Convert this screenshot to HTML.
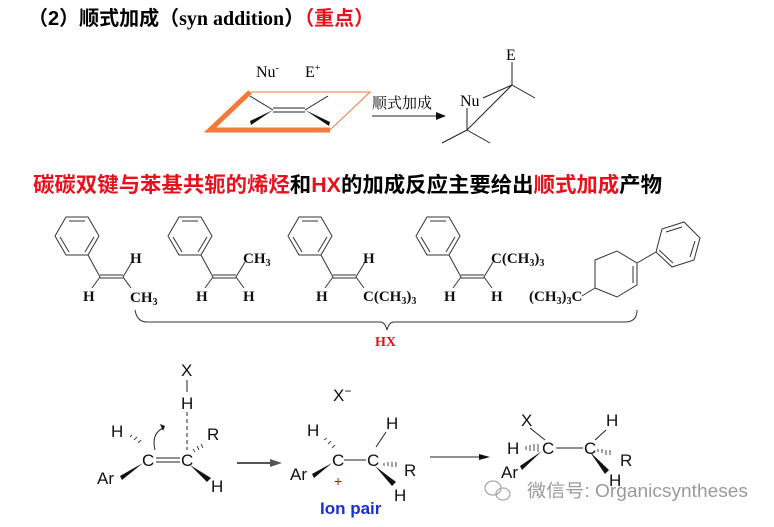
<!DOCTYPE html>
<html><head><meta charset="utf-8"><style>
html,body{margin:0;padding:0;background:#fff}
svg{display:block}
</style></head><body>
<svg width="774" height="527" viewBox="0 0 774 527" xmlns="http://www.w3.org/2000/svg">
<text x="28" y="25" font-weight="bold" font-size="20" font-family="Liberation Sans,Noto Sans CJK SC,sans-serif">（2）顺式加成（<tspan font-family="Liberation Serif">syn addition</tspan>）<tspan fill="#e8101a">（重点）</tspan></text>

<!-- top scheme -->
<g stroke="#222" stroke-width="1" fill="none">
<polyline points="250,92 210,130 330,130" stroke="#f07a3a" stroke-width="5"/>
<polyline points="250,92 370,92 330,130" stroke="#f07a3a" stroke-width="1"/>
<line x1="273" y1="108" x2="305" y2="108"/><line x1="273" y1="112" x2="305" y2="112"/>
<line x1="273" y1="110" x2="250" y2="96"/><line x1="305" y1="110" x2="328" y2="96"/>
<line x1="372" y1="116" x2="440" y2="116"/>
<line x1="512" y1="62" x2="512" y2="85"/><line x1="512" y1="85" x2="535" y2="98"/>
<line x1="512" y1="85" x2="483" y2="98"/><line x1="512" y1="85" x2="467" y2="130"/>
<line x1="467" y1="108" x2="467" y2="130"/><line x1="467" y1="130" x2="442" y2="143"/><line x1="467" y1="130" x2="490" y2="143"/>
</g>
<polygon points="273,110 250,121 251,125" fill="#111"/>
<polygon points="305,110 330,122 329,126" fill="#111"/>
<polygon points="446,116 436,112 436,120" fill="#111"/>
<text x="256" y="77" font-size="16" font-family="Liberation Serif">Nu<tspan font-size="10" dy="-6">-</tspan></text>
<text x="305" y="77" font-size="16" font-family="Liberation Serif">E<tspan font-size="10" dy="-6">+</tspan></text>
<text x="372" y="108" font-size="15" font-family="Noto Serif CJK SC,serif">顺式加成</text>
<text x="506" y="60" font-size="16" font-family="Liberation Serif">E</text>
<text x="460" y="106" font-size="16" font-family="Liberation Serif">Nu</text>

<text x="33" y="192" font-weight="bold" font-size="21" font-family="Liberation Sans,Noto Sans CJK SC,sans-serif" textLength="629" lengthAdjust="spacingAndGlyphs"><tspan fill="#e8101a">碳碳双键与苯基共轭的烯烃</tspan>和<tspan fill="#e8101a">HX</tspan>的加成反应主要给出<tspan fill="#e8101a">顺式加成</tspan>产物</text>

<defs>
<g id="sty" stroke="#333" stroke-width="1" fill="none">
<polygon points="-22,0 -11,-19 11,-19 22,0 11,19 -11,19"/>
<line x1="-8" y1="-15" x2="8" y2="-15"/><line x1="-17" y1="1" x2="-8" y2="16"/><line x1="17" y1="1" x2="8" y2="16"/>
<line x1="11" y1="19" x2="23" y2="41"/>
<line x1="23" y1="39" x2="46" y2="39"/><line x1="23" y1="42" x2="46" y2="42"/>
<line x1="23" y1="41" x2="15" y2="52"/><line x1="46" y1="41" x2="55" y2="26"/><line x1="46" y1="41" x2="54" y2="52"/>
</g>
</defs>
<g font-family="Liberation Serif" font-weight="bold" font-size="15" fill="#111">
<use href="#sty" x="77" y="236"/>
<text x="83" y="301">H</text><text x="130" y="263">H</text><text x="130" y="302">CH<tspan font-size="10" dy="3">3</tspan></text>
<use href="#sty" x="190" y="236"/>
<text x="196" y="301">H</text><text x="243" y="263">CH<tspan font-size="10" dy="3">3</tspan></text><text x="243" y="301">H</text>
<use href="#sty" x="310" y="236"/>
<text x="316" y="301">H</text><text x="363" y="263">H</text><text x="363" y="301">C(CH<tspan font-size="10" dy="3">3</tspan><tspan dy="-3">)</tspan><tspan font-size="10" dy="3">3</tspan></text>
<use href="#sty" x="438" y="236"/>
<text x="444" y="301">H</text><text x="491" y="263">C(CH<tspan font-size="10" dy="3">3</tspan><tspan dy="-3">)</tspan><tspan font-size="10" dy="3">3</tspan></text><text x="491" y="301">H</text>
<text x="529" y="301">(CH<tspan font-size="10" dy="3">3</tspan><tspan dy="-3">)</tspan><tspan font-size="10" dy="3">3</tspan><tspan dy="-3">C</tspan></text>
</g>
<g stroke="#333" stroke-width="1" fill="none">
<polygon points="595,260 617,251 637,263 637,285 617,297 595,288"/>
<line x1="633" y1="266" x2="633" y2="283"/>
<line x1="582" y1="296" x2="595" y2="288"/>
<line x1="637" y1="263" x2="656" y2="252"/>
<polygon points="656,252 662,229 684,222 700,238 694,260 672,267"/>
<line x1="666" y1="232" x2="682" y2="227"/><line x1="695" y1="241" x2="690" y2="257"/><line x1="673" y1="263" x2="659" y2="250"/>
<path d="M135,310 q2,12 12,12 L380,322 q5,0 7,8 q2,-8 7,-8 L625,322 q12,0 12,-12"/>
</g>
<text x="375" y="346" font-family="Liberation Serif" font-weight="bold" font-size="14" fill="#e8101a">HX</text>

<!-- mechanism -->
<g font-size="17" fill="#111" font-family="Liberation Sans,sans-serif">
<text x="181" y="376">X</text><text x="181" y="409">H</text>
<text x="111" y="437">H</text><text x="142" y="466">C</text><text x="181" y="466">C</text>
<text x="207" y="440">R</text><text x="97" y="484">Ar</text><text x="211" y="492">H</text>
<text x="333" y="401">X<tspan font-size="12" dy="-6">−</tspan></text>
<text x="307" y="436">H</text><text x="332" y="466">C</text><text x="367" y="466">C</text>
<text x="386" y="429">H</text><text x="404" y="476">R</text><text x="394" y="501">H</text><text x="290" y="480">Ar</text>
<text x="334" y="486" font-size="14" fill="#c00">+</text>
<text x="320" y="514" font-weight="bold" fill="#1a2fd0">Ion pair</text>
<text x="521" y="426">X</text><text x="507" y="454">H</text><text x="542" y="454">C</text><text x="584" y="454">C</text>
<text x="606" y="426">H</text><text x="620" y="466">R</text><text x="501" y="478">Ar</text><text x="609" y="486">H</text>
</g>
<g stroke="#222" stroke-width="1" fill="none">
<line x1="156" y1="458" x2="180" y2="458"/><line x1="156" y1="462" x2="180" y2="462"/>
<line x1="187" y1="380" x2="187" y2="392"/>
<line x1="187" y1="412" x2="187" y2="450" stroke-dasharray="4,3"/>
<path d="M155,450 q-4,-16 8,-22"/>
<line x1="344" y1="460" x2="366" y2="460"/>
<line x1="376" y1="447" x2="386" y2="432"/>
<line x1="530" y1="428" x2="545" y2="440"/>
<line x1="556" y1="448" x2="583" y2="448"/>
<line x1="595" y1="440" x2="606" y2="430"/>
<line x1="430" y1="457" x2="482" y2="457"/>
</g>
<line x1="237" y1="463" x2="272" y2="463" stroke="#555" stroke-width="2"/>
<polygon points="282,463 270,459 270,467" fill="#555"/>
<polygon points="490,457 479,454 479,460" fill="#111"/>
<polygon points="165,426 160,424 163,431" fill="#111"/>
<g fill="#111">
<polygon points="143,463 120,476 122,480"/>
<polygon points="190,465 207,482 211,478"/>
<polygon points="332,463 312,474 314,478"/>
<polygon points="375,466 392,486 396,482"/>
<polygon points="542,451 520,466 522,470"/>
<polygon points="590,452 605,474 609,470"/>
</g>
<g stroke="#444" stroke-width="1">
<path d="M130,437 l2,-2 M134,440 l3,-3 M138,443 l3,-3"/>
<path d="M195,452 l-2,-3 M199,450 l-2,-4 M203,448 l-2,-4"/>
<path d="M324,440 l3,-2 M328,444 l3,-3 M332,448 l3,-3"/>
<path d="M384,466 l0,-3 M388,466 l0,-4 M392,467 l0,-5 M396,467 l0,-5"/>
<path d="M526,446 l0,4 M530,445 l0,6 M534,444 l0,7 M538,444 l0,8"/>
<path d="M598,449 l0,3 M602,449 l0,4 M606,450 l0,5 M610,450 l0,5"/>
</g>
<g fill="none" stroke="#aaa" stroke-width="1.3">
<ellipse cx="493" cy="488" rx="8" ry="7"/><ellipse cx="503" cy="494" rx="7" ry="6"/>
</g>
<text x="527" y="497" font-family="Liberation Sans,Noto Sans CJK SC,sans-serif" font-size="18" fill="#9a9a9a" textLength="221" lengthAdjust="spacingAndGlyphs">微信号: Organicsyntheses</text>
</svg>
</body></html>
